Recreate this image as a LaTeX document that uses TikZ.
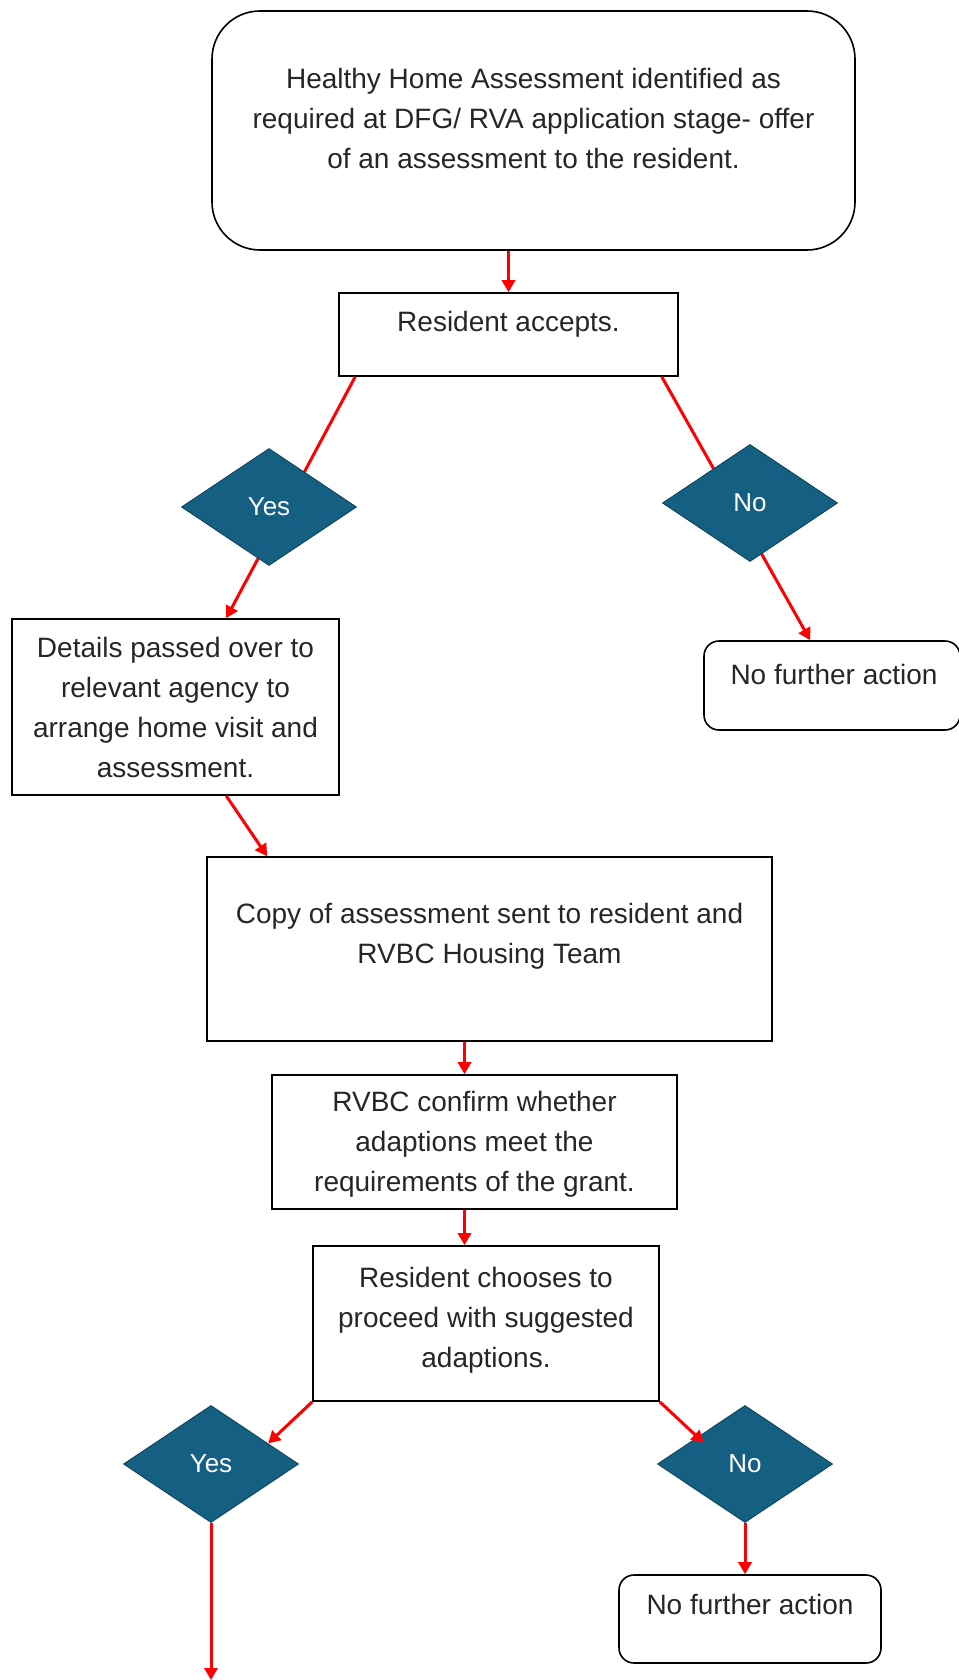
\documentclass[tikz,border=0pt]{standalone}
\usepackage{fontspec}
\setmainfont{Liberation Sans}
\usetikzlibrary{shapes.geometric,arrows.meta,calc}
\definecolor{decision}{HTML}{156082}
\definecolor{decisionline}{HTML}{0F4761}
\definecolor{flowred}{HTML}{FF0000}
\definecolor{textgrey}{HTML}{262626}

\begin{document}
\begin{tikzpicture}[x=1pt, y=-1pt,
    box/.style={draw=black, line width=1.6pt, rectangle, inner sep=0pt},
    roundbox/.style={box, rounded corners=15pt},
    boxtext/.style={text=textgrey, font=\fontsize{28}{40}\selectfont, align=center},
    choice/.style={diamond, draw=decisionline, line width=1pt, fill=decision, inner sep=0pt,
        minimum width=175pt, minimum height=117pt, text=white, font=\fontsize{26}{30}\selectfont},
    flow/.style={draw=flowred, line width=3pt, -{Triangle[length=12pt,width=13pt]}}]

    \useasboundingbox (0,0) rectangle (958,1680);

    \node[box, rounded corners=48pt, minimum width=643pt, minimum height=239pt] (offer) at (533.5,130.5) {};
    \node[boxtext] (offertext) at (533.5,118) {Healthy Home Assessment identified as\\required at DFG/ RVA application stage- offer\\of an assessment to the resident.};
    \node[box, minimum width=339pt, minimum height=83pt] (accept) at (508.5,334.5) {};
    \node[boxtext] (accepttext) at (508.5,324) {Resident accepts.};
    \node[box, boxtext, minimum width=327pt, minimum height=176pt] (details) at (175.5,707) {Details passed over to\\relevant agency to\\arrange home visit and\\assessment.};
    \node[roundbox, minimum width=256pt, minimum height=89pt] (stop1) at (832,685.5) {};
    \node[boxtext] (stop1text) at (834,674) {No further action};
    \node[box, minimum width=565pt, minimum height=184pt] (copy) at (489.5,949) {};
    \node[boxtext] (copytext) at (489.5,936) {Copy of assessment sent to resident and\\RVBC Housing Team};
    \node[box, minimum width=405pt, minimum height=134pt] (rvbc) at (474.5,1142) {};
    \node[boxtext] (rvbctext) at (474.5,1144) {RVBC confirm whether\\adaptions meet the\\requirements of the grant.};
    \node[box, minimum width=346pt, minimum height=155pt] (chooses) at (486,1323.5) {};
    \node[boxtext] (choosestext) at (486,1320) {Resident chooses to\\proceed with suggested\\adaptions.};
    \node[roundbox, minimum width=262pt, minimum height=88pt] (stop2) at (750,1619) {};
    \node[boxtext] (stop2text) at (750,1604) {No further action};
    \coordinate (out) at (211,1680);

    \draw[flow] (offer.south -| accept.north) -- (accept.north);
    \draw[flow] ([xshift=17pt]accept.south west) -- ([xshift=215pt]details.north west);
    \draw[flow] ([xshift=-17pt]accept.south east) -- ([xshift=107pt]stop1.north west);
    \draw[flow] ([xshift=215pt]details.south west) -- ([xshift=61pt]copy.north west);
    \draw[flow] ([xshift=-10pt]rvbc.north |- copy.south) -- ([xshift=-10pt]rvbc.north);
    \draw[flow] ([xshift=-10pt]rvbc.south) -- ([xshift=-10pt]rvbc.south |- chooses.north);

    \node[choice] (yes1) at (269,507) {Yes};
    \node[choice] (no1) at (750,503) {No};
    \node[choice] (yes2) at (211,1464) {Yes};
    \node[choice] (no2) at (745,1464) {No};

    \draw[flow] (chooses.south west) -- ($(yes2.north)!0.65!(yes2.east)$);
    \draw[flow] (chooses.south east) -- ($(no2.north)!0.47!(no2.west)+(0,10)$);
    \draw[flow] (yes2.south) -- (out);
    \draw[flow] (no2.south) -- (no2.south |- stop2.north);
\end{tikzpicture}
\end{document}
